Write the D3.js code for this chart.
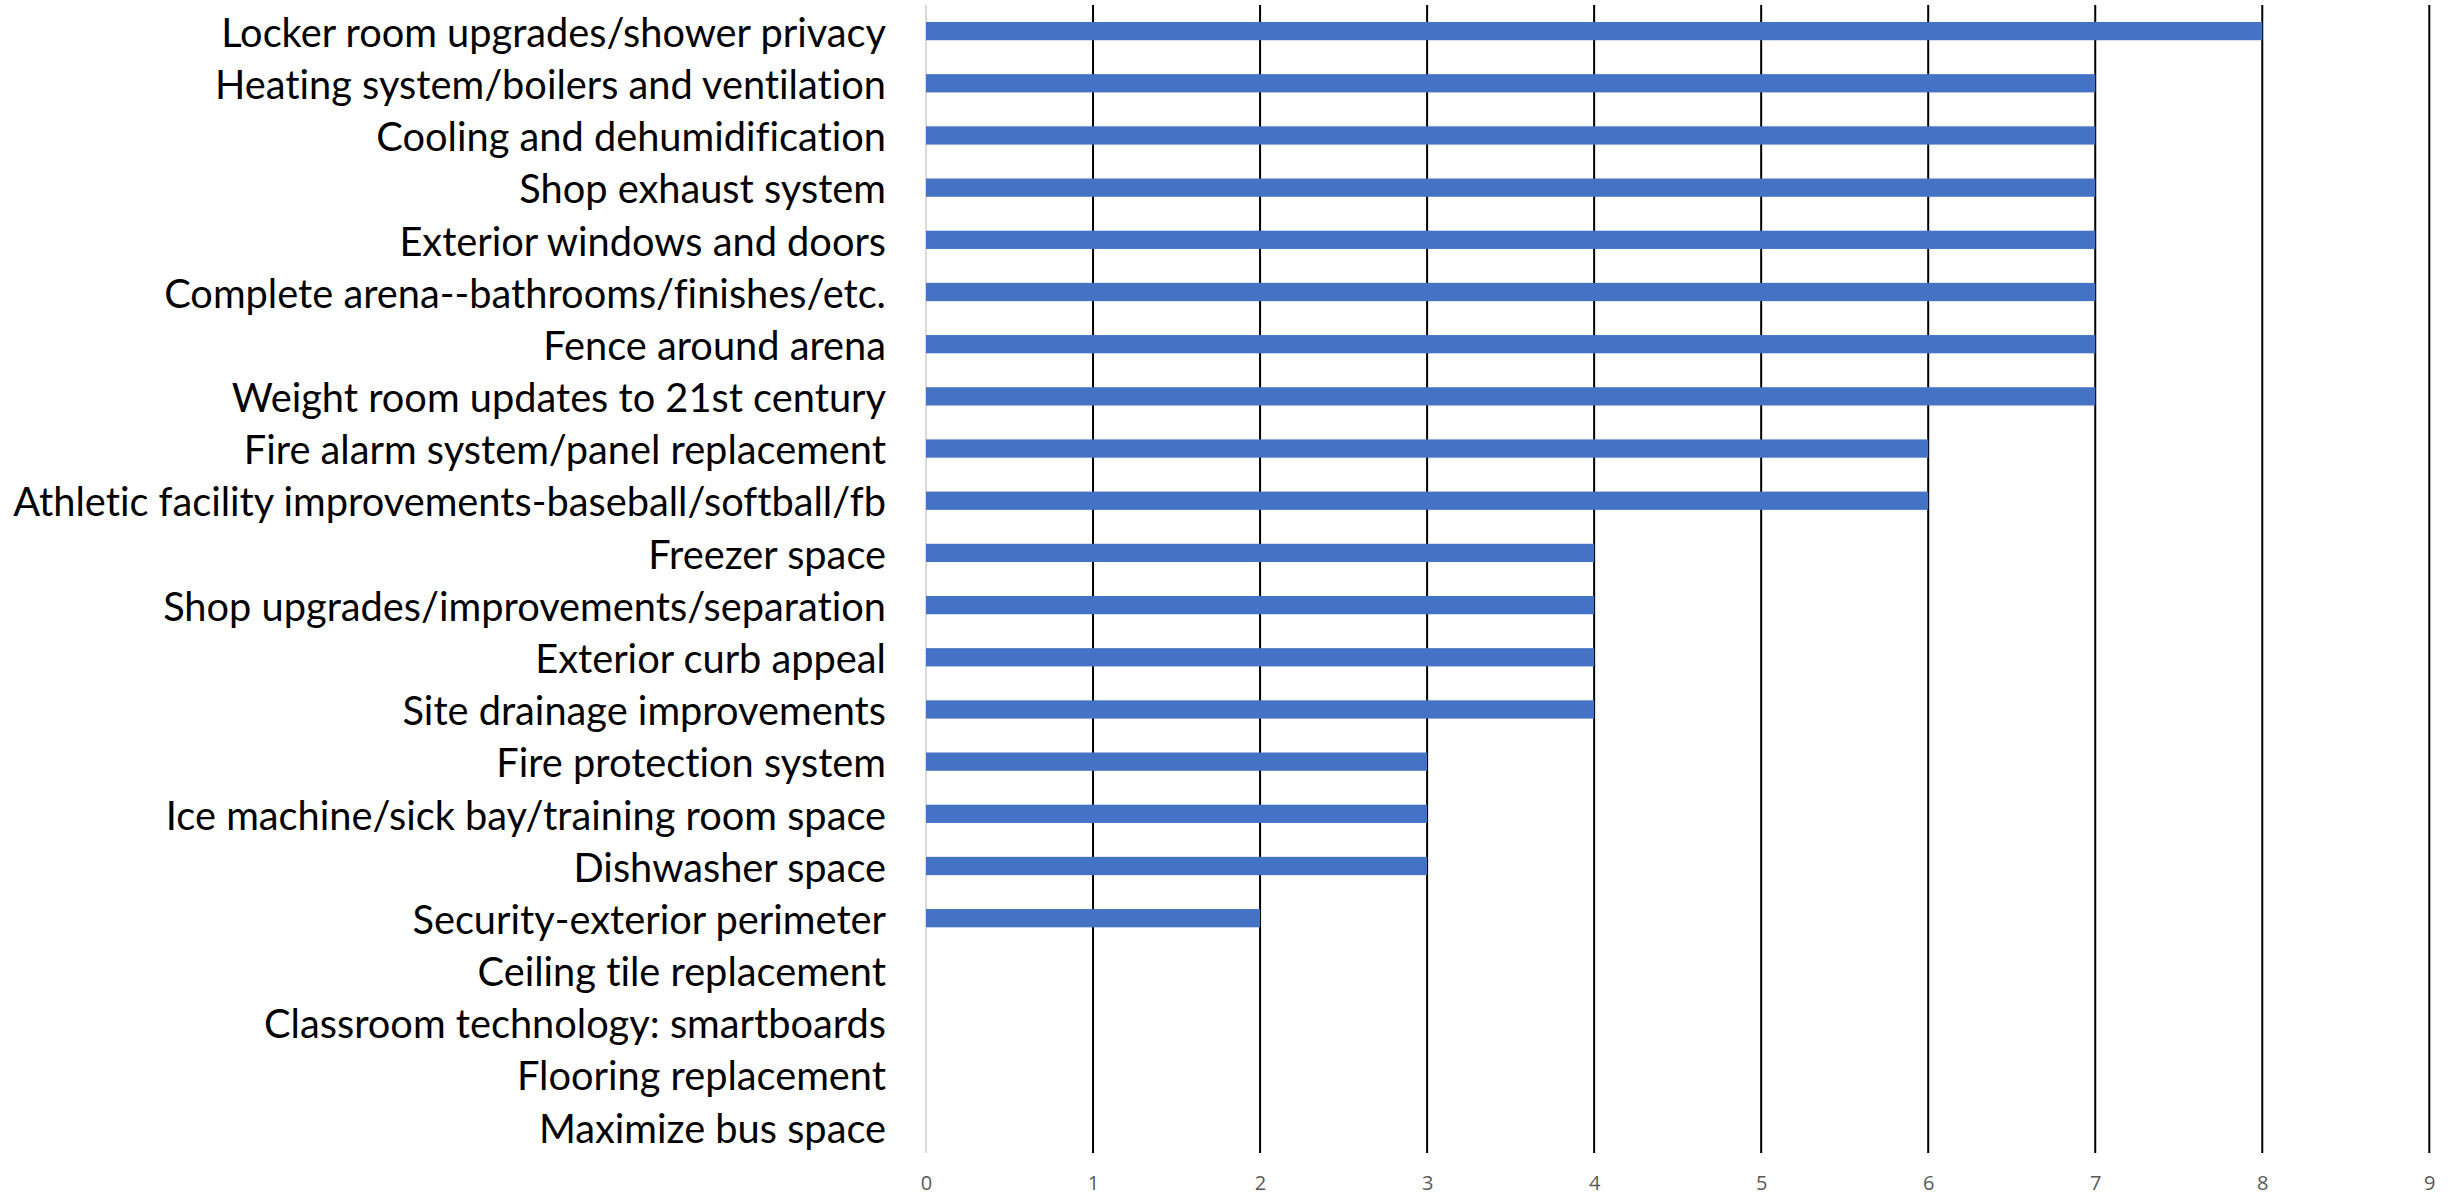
<!DOCTYPE html>
<html><head><meta charset="utf-8">
<script src="https://cdn.jsdelivr.net/npm/d3@7/dist/d3.min.js"></script>
<style>body{margin:0;background:#fff;}svg{display:block;}text{font-variant-ligatures:none;font-feature-settings:"liga" 0,"dlig" 0;}</style>
</head><body>
<svg id="chart" width="2453" height="1196"></svg>
<script>
const categories = [
  "Locker room upgrades/shower privacy",
  "Heating system/boilers and ventilation",
  "Cooling and dehumidification",
  "Shop exhaust system",
  "Exterior windows and doors",
  "Complete arena--bathrooms/finishes/etc.",
  "Fence around arena",
  "Weight room updates to 21st century",
  "Fire alarm system/panel replacement",
  "Athletic facility improvements-baseball/softball/fb",
  "Freezer space",
  "Shop upgrades/improvements/separation",
  "Exterior curb appeal",
  "Site drainage improvements",
  "Fire protection system",
  "Ice machine/sick bay/training room space",
  "Dishwasher space",
  "Security-exterior perimeter",
  "Ceiling tile replacement",
  "Classroom technology: smartboards",
  "Flooring replacement",
  "Maximize bus space"
];
const values = [8,7,7,7,7,7,7,7,6,6,4,4,4,4,3,3,3,2,0,0,0,0];
const tickValues = [0,1,2,3,4,5,6,7,8,9];

(function(){
const svg = d3.select("#chart");
const mL = 926, mR = 2429.3, mT = 5, mB = 1153;
const x = d3.scaleLinear().domain([0,9]).range([mL,mR]);
const y = d3.scaleBand().domain(categories).range([mT,mB]).paddingInner(0.65).paddingOuter(0.325);

svg.append("g").selectAll("line").data(tickValues.filter(d=>d>0)).join("line")
  .attr("x1",d=>x(d)).attr("x2",d=>x(d)).attr("y1",mT).attr("y2",mB)
  .attr("stroke","#000").attr("stroke-width",2);
svg.append("line").attr("x1",x(0)).attr("x2",x(0)).attr("y1",mT).attr("y2",mB)
  .attr("stroke","#d9d9d9").attr("stroke-width",2);

svg.append("g").selectAll("rect").data(values).join("rect")
  .attr("x",x(0)).attr("y",(d,i)=>y(categories[i]))
  .attr("width",d=>x(d)-x(0)).attr("height",y.bandwidth())
  .attr("fill","#4472C4");

const xAxis = d3.axisBottom(x).tickValues(tickValues).tickSize(0).tickPadding(0);
const gx = svg.append("g").attr("transform",`translate(0,${mB+23})`).call(xAxis);
gx.select(".domain").remove();
gx.selectAll("text").attr("font-family","'Open Sans', sans-serif").attr("font-size",20).attr("fill","#595959");

const yAxis = d3.axisLeft(y).tickSize(0).tickPadding(0);
const gy = svg.append("g").attr("transform",`translate(${mL-40},3)`).call(yAxis);
gy.select(".domain").remove();
const labels = gy.selectAll("text").attr("font-family","Lato, sans-serif").attr("font-size",34).attr("fill","#000");
let maxW = 0;
labels.each(function(){ maxW = Math.max(maxW, this.getComputedTextLength()); });
const fs = 34 * 873 / maxW;
labels.attr("font-size", fs);
})();
</script>
</body></html>
